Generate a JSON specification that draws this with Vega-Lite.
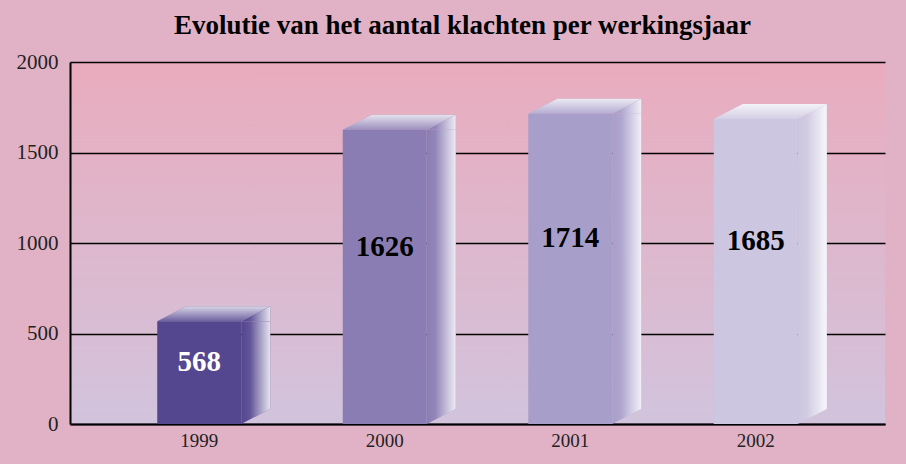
{
  "$schema": "https://vega.github.io/schema/vega-lite/v6.json",
  "autosize": "none",
  "width": 815,
  "height": 362,
  "padding": {"left": 70, "top": 62, "right": 21, "bottom": 40},
  "background": "#E1B2C6",
  "title": {
    "text": "Evolutie van het aantal klachten per werkingsjaar",
    "font": "Liberation Serif",
    "fontSize": 27,
    "fontWeight": "bold",
    "color": "black",
    "anchor": "middle",
    "frame": "group",
    "dx": -15,
    "offset": -10,
    "baseline": "alphabetic"
  },
  "view": {
    "stroke": null,
    "fill": {
      "gradient": "linear",
      "x1": 0, "y1": -0.1436, "x2": 0, "y2": 1.1105,
      "stops": [
        {"offset": 0, "color": "#EDA8B9"},
        {"offset": 1, "color": "#CFC6E0"}
      ]
    }
  },
  "data": {
    "values": [
      {"jaar": "1999", "aantal": 568},
      {"jaar": "2000", "aantal": 1626},
      {"jaar": "2001", "aantal": 1714},
      {"jaar": "2002", "aantal": 1685}
    ]
  },
  "encoding": {
    "x": {
      "field": "jaar", "type": "nominal", "title": null,
      "scale": {"paddingInner": 0.5, "paddingOuter": 0.4467},
      "axis": {
        "labelAngle": 0, "ticks": false, "domainColor": "black", "domainWidth": 2,
        "labelFont": "Liberation Serif", "labelFontSize": 19, "labelColor": "#222",
        "labelPadding": 7, "grid": false
      }
    },
    "y": {
      "field": "aantal", "type": "quantitative", "title": null,
      "scale": {"domain": [0, 2000], "nice": false},
      "axis": {
        "values": [0, 500, 1000, 1500, 2000], "format": "d", "ticks": false,
        "domainColor": "black", "domainWidth": 2,
        "grid": true, "gridColor": "black", "gridWidth": 1.5, "gridOpacity": 1,
        "labelFont": "Liberation Serif", "labelFontSize": 21, "labelColor": "#222",
        "labelPadding": 12
      }
    }
  },
  "layer": [
    {
      "mark": {"type": "bar", "width": 29, "xOffset": 56.5, "y2Offset": -15},
      "encoding": {
        "y2": {"datum": 0},
        "color": {
          "field": "jaar", "type": "nominal", "legend": null,
          "scale": {"domain": ["1999", "2000", "2001", "2002"], "range": ["#54468F", "#8A7DB3", "#A89ECA", "#CCC6E0"]}
        }
      }
    },
    {
      "mark": {
        "type": "bar", "width": 29, "xOffset": 56.5, "y2Offset": -15,
        "fill": {"gradient": "linear", "x1": 0, "y1": 0, "x2": 1, "y2": 0,
          "stops": [
            {"offset": 0, "color": "rgba(255,255,255,0)"},
            {"offset": 0.3, "color": "rgba(255,255,255,0.08)"},
            {"offset": 1, "color": "rgba(255,255,255,0.85)"}
          ]}
      },
      "encoding": {"y2": {"datum": 0}}
    },
    {
      "mark": {"type": "point", "filled": true, "opacity": 1, "size": 4, "strokeWidth": 0,
        "shape": "M 42 0 L 71 -15 L 71 0 Z"},
      "encoding": {"color": {"field": "jaar", "type": "nominal", "legend": null}}
    },
    {
      "mark": {"type": "point", "filled": true, "opacity": 1, "size": 4, "strokeWidth": 0,
        "shape": "M 42 0 L 71 -15 L 71 0 Z",
        "fill": {"gradient": "linear", "x1": 0, "y1": 0, "x2": 1, "y2": 0,
          "stops": [
            {"offset": 0, "color": "rgba(255,255,255,0)"},
            {"offset": 0.3, "color": "rgba(255,255,255,0.08)"},
            {"offset": 1, "color": "rgba(255,255,255,0.85)"}
          ]}}
    },
    {
      "mark": {"type": "point", "filled": true, "opacity": 1, "size": 4, "strokeWidth": 0,
        "shape": "M 42 -15 L 42 0 L 71 -15 Z"},
      "encoding": {"y": {"datum": 0}, "color": {"field": "jaar", "type": "nominal", "legend": null}}
    },
    {
      "mark": {"type": "point", "filled": true, "opacity": 1, "size": 4, "strokeWidth": 0,
        "shape": "M 42 -15 L 42 0 L 71 -15 Z",
        "fill": {"gradient": "linear", "x1": 0, "y1": 0, "x2": 1, "y2": 0,
          "stops": [
            {"offset": 0, "color": "rgba(255,255,255,0)"},
            {"offset": 0.3, "color": "rgba(255,255,255,0.08)"},
            {"offset": 1, "color": "rgba(255,255,255,0.85)"}
          ]}},
      "encoding": {"y": {"datum": 0}}
    },
    {
      "mark": {"type": "point", "filled": true, "opacity": 1, "size": 4, "strokeWidth": 0,
        "shape": "M -42 0 L 42 0 L 71 -15 L -13 -15 Z"},
      "encoding": {"color": {"field": "jaar", "type": "nominal", "legend": null}}
    },
    {
      "mark": {"type": "point", "filled": true, "opacity": 1, "size": 4, "strokeWidth": 0,
        "shape": "M -42 0 L 42 0 L 71 -15 L -13 -15 Z",
        "fill": {"gradient": "linear", "x1": 0, "y1": 1, "x2": 0, "y2": 0,
          "stops": [
            {"offset": 0, "color": "rgba(255,255,255,0.15)"},
            {"offset": 1, "color": "rgba(255,255,255,0.78)"}
          ]}}
    },
    {
      "mark": {"type": "bar", "width": 84},
      "encoding": {
        "y2": {"datum": 0},
        "color": {"field": "jaar", "type": "nominal", "legend": null}
      }
    },
    {
      "transform": [{"calculate": "datum.aantal * 0.6", "as": "labelhoogte"}],
      "mark": {"type": "text", "font": "Liberation Serif", "fontSize": 29, "fontWeight": "bold", "baseline": "middle"},
      "encoding": {
        "y": {"field": "labelhoogte", "type": "quantitative"},
        "text": {"field": "aantal", "type": "quantitative"},
        "color": {"condition": {"test": "datum.jaar == '1999'", "value": "white"}, "value": "black"}
      }
    }
  ]
}
